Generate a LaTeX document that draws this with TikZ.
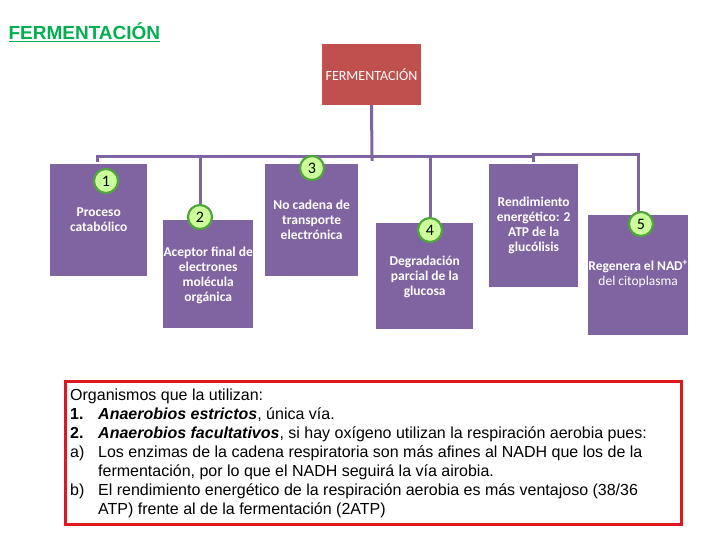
\documentclass[tikz,border=0pt]{standalone}
\usepackage{fontspec}
\setmainfont{Liberation Sans}
\newfontfamily\boxfont{Carlito}
\usetikzlibrary{positioning}

\definecolor{boxpurple}{RGB}{128,100,162}
\definecolor{topred}{RGB}{192,80,77}
\definecolor{numfill}{RGB}{204,255,153}
\definecolor{numdraw}{RGB}{80,165,60}
\definecolor{titlegreen}{RGB}{0,176,80}
\definecolor{frame}{RGB}{222,24,32}

\tikzset{
  concept/.style={fill=boxpurple,inner sep=0pt,anchor=north west},
  concepttext/.style={text=white,align=center,font=\boxfont\bfseries\fontsize{13.5}{15}\selectfont,inner sep=0pt},
  num/.style={circle,fill=numfill,draw=numdraw,line width=2.2pt,minimum size=24pt,inner sep=0pt,font=\boxfont\fontsize{16}{16}\selectfont},
  link/.style={draw=boxpurple,line width=3pt}
}

\begin{document}
\begin{tikzpicture}[x=1pt,y=-1pt]
\useasboundingbox (0,0) rectangle (720,540);

% Title
      \node[anchor=west,text=titlegreen,font=\bfseries\fontsize{19}{19}\selectfont] (title) at (5,32) {\underline{FERMENTACIÓN}};
      \node[fill=topred,minimum width=97pt,minimum height=61pt,text=white,font=\boxfont\fontsize{14}{14}\selectfont] (top) at (371.5,74.5) {FERMENTACIÓN};

% Boxes
      \node[concept,minimum width=97pt,minimum height=112pt] (b1) at (50,164) {};
      \node[concept,minimum width=90pt,minimum height=108pt] (b2) at (163,220) {};
      \node[concept,minimum width=93pt,minimum height=112pt] (b3) at (265,164) {};
      \node[concept,minimum width=97pt,minimum height=106pt] (b4) at (376,223) {};
      \node[concept,minimum width=89pt,minimum height=123pt] (b6) at (489,164) {};
      \node[concept,minimum width=100pt,minimum height=120pt] (b5) at (588,215) {};

      \node[concepttext,below=44pt of b1.north] (t1) {Proceso\\catabólico};
      \node[concepttext,below=27pt of b2.north] (t2) {Aceptor final de\\electrones\\molécula\\orgánica};
      \node[concepttext,below=36pt of b3.north] (t3) {No cadena de\\transporte\\electrónica};
      \node[concepttext,below=33pt of b4.north] (t4) {Degradación\\parcial de la\\glucosa};
      \node[concepttext,below=33pt of b6.north] (t6) {Rendimiento\\energético: 2\\ATP de la\\glucólisis};
      \node[concepttext,below=45pt of b5.north] (t5) {Regenera el NAD\textsuperscript{+}\\{\mdseries del citoplasma}};

% Connectors
      \coordinate (busL) at (97,157);
      \coordinate (busM) at (372,157);
      \coordinate (busR) at (533,157);
      \coordinate (busE) at (638,155);
      \draw[link] (top.south) -- (busM) -- ++(0,4);
      \draw[link] (busL) ++(0,5) -- (busL) -- (busR) -- ++(0,5);
      \draw[link] (busR) -- (533,155) -- (busE) -- (638,212);
      \draw[link] (200,157) -- (200,205);
      \draw[link] (430,157) -- (430,218);

% Numbers
      \node[num] (n1) at (106,181) {1};
      \node[num] (n2) at (200,217) {2};
      \node[num] (n3) at (312,168) {3};
      \node[num] (n4) at (430,230) {4};
      \node[num] (n5) at (641,224) {5};

% Note
      \draw[frame,line width=3pt] (65,381) rectangle (681,524);
      \node[anchor=north west,align=left,inner sep=0pt,font=\fontsize{16}{19}\selectfont] (note) at (70,389) {%
        Organismos que la utilizan:\\
        \makebox[28pt][l]{\textbf{1.}}\textbf{\textit{Anaerobios estrictos}}, única vía.\\
        \makebox[28pt][l]{\textbf{2.}}\textbf{\textit{Anaerobios facultativos}}, si hay oxígeno utilizan la respiración aerobia pues:\\
        \makebox[28pt][l]{a)}Los enzimas de la cadena respiratoria son más afines al NADH que los de la\\
        \hspace*{28pt}fermentación, por lo que el NADH seguirá la vía airobia.\\
        \makebox[28pt][l]{b)}El rendimiento energético de la respiración aerobia es más ventajoso (38/36\\
        \hspace*{28pt}ATP) frente al de la fermentación (2ATP)};

    \end{tikzpicture}
\end{document}
